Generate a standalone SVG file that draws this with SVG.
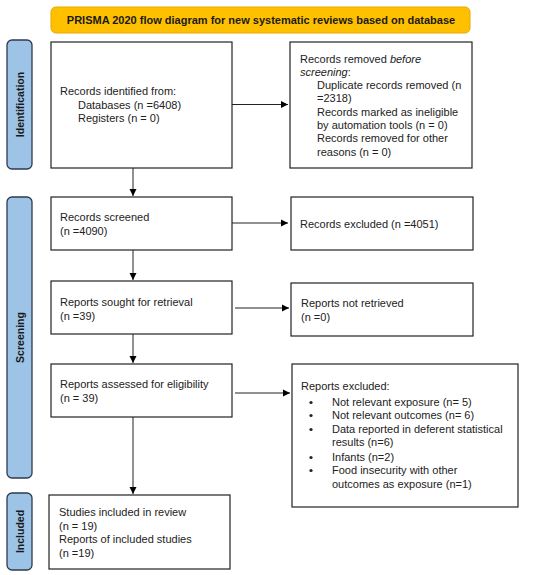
<svg xmlns="http://www.w3.org/2000/svg" width="550" height="575" viewBox="0 0 550 575">
<defs>
<marker id="ah" markerWidth="8" markerHeight="8" refX="7" refY="4" orient="auto" markerUnits="userSpaceOnUse">
<path d="M0,0.5 L7,4 L0,7.5 Z" fill="#000"/>
</marker>
<style>
.box{fill:#fff;stroke:#222;stroke-width:1.2}
.side{fill:#9DC3E6;stroke:#2E3B4E;stroke-width:1.3}
.t{font-family:"Liberation Sans",Arial,sans-serif;font-size:11px;fill:#222}
.sl{font-family:"Liberation Sans",Arial,sans-serif;font-size:10.5px;font-weight:bold;fill:#1a1a1a}
.ln{stroke:#222;stroke-width:1;fill:none;marker-end:url(#ah)}
</style>
</defs>
<rect width="550" height="575" fill="#fff"/>
<g id="title">
<rect x="51" y="7" width="419" height="26" rx="5" fill="#FFC000" stroke="#E8A800" stroke-width="1"/>
<text x="261" y="24" text-anchor="middle" font-family="Liberation Sans,Arial,sans-serif" font-size="11" font-weight="bold" fill="#1a1a1a">PRISMA 2020 flow diagram for new systematic reviews based on database</text>
</g>
<g id="side-identification">
<rect class="side" x="7" y="40" width="25" height="129" rx="5"/>
<text class="sl" transform="translate(23.5,104.5) rotate(-90)" text-anchor="middle">Identification</text>
</g>
<g id="side-screening">
<rect class="side" x="7" y="197" width="25" height="281" rx="5"/>
<text class="sl" transform="translate(23.5,337.5) rotate(-90)" text-anchor="middle">Screening</text>
</g>
<g id="side-included">
<rect class="side" x="7" y="493" width="25" height="77" rx="5"/>
<text class="sl" transform="translate(23.5,531.5) rotate(-90)" text-anchor="middle">Included</text>
</g>
<g id="identified">
<rect class="box" x="51" y="42" width="181" height="126"/>
<text class="t" x="60" y="95">Records identified from:</text>
<text class="t" x="78" y="109">Databases (n =6408)</text>
<text class="t" x="78" y="122">Registers (n = 0)</text>
</g>
<g id="removed">
<rect class="box" x="290" y="42" width="182" height="126"/>
<text class="t" x="300" y="63">Records removed <tspan font-style="italic">before</tspan></text>
<text class="t" x="300" y="76"><tspan font-style="italic">screening</tspan>:</text>
<text class="t" x="317" y="89">Duplicate records removed (n</text>
<text class="t" x="317" y="102">=2318)</text>
<text class="t" x="317" y="116">Records marked as ineligible</text>
<text class="t" x="317" y="129">by automation tools (n = 0)</text>
<text class="t" x="317" y="142">Records removed for other</text>
<text class="t" x="317" y="156">reasons (n = 0)</text>
</g>
<g id="screened">
<rect class="box" x="51" y="197" width="181" height="53"/>
<text class="t" x="60" y="221">Records screened</text>
<text class="t" x="60" y="235">(n =4090)</text>
</g>
<g id="excluded">
<rect class="box" x="291" y="197" width="182" height="53"/>
<text class="t" x="300" y="228">Records excluded (n =4051)</text>
</g>
<g id="sought">
<rect class="box" x="51" y="281" width="181" height="53"/>
<text class="t" x="60" y="306">Reports sought for retrieval</text>
<text class="t" x="60" y="320">(n =39)</text>
</g>
<g id="notretrieved">
<rect class="box" x="291" y="283" width="182" height="53"/>
<text class="t" x="301" y="307">Reports not retrieved</text>
<text class="t" x="301" y="321">(n =0)</text>
</g>
<g id="assessed">
<rect class="box" x="51" y="364" width="181" height="53"/>
<text class="t" x="60" y="388">Reports assessed for eligibility</text>
<text class="t" x="60" y="402">(n = 39)</text>
</g>
<g id="reportsexcluded">
<rect class="box" x="292" y="364" width="226" height="143"/>
<text class="t" x="301" y="390">Reports excluded:</text>
<g fill="#222">
<circle cx="311" cy="402.5" r="1.6"/>
<circle cx="311" cy="415.5" r="1.6"/>
<circle cx="311" cy="429.5" r="1.6"/>
<circle cx="311" cy="457.5" r="1.6"/>
<circle cx="311" cy="470.5" r="1.6"/>
</g>
<text class="t" x="332" y="406">Not relevant exposure (n= 5)</text>
<text class="t" x="332" y="419">Not relevant outcomes (n= 6)</text>
<text class="t" x="332" y="433">Data reported in deferent statistical</text>
<text class="t" x="332" y="446">results (n=6)</text>
<text class="t" x="332" y="461">Infants (n=2)</text>
<text class="t" x="332" y="474">Food insecurity with other</text>
<text class="t" x="332" y="488">outcomes as exposure (n=1)</text>
</g>
<g id="included">
<rect class="box" x="49" y="495" width="181" height="74"/>
<text class="t" x="59" y="516">Studies included in review</text>
<text class="t" x="59" y="530">(n = 19)</text>
<text class="t" x="59" y="543">Reports of included studies</text>
<text class="t" x="59" y="557">(n =19)</text>
</g>
<g id="connectors">
<line class="ln" x1="232" y1="104.5" x2="288" y2="104.5"/>
<line class="ln" x1="232" y1="223" x2="288" y2="223"/>
<line class="ln" x1="235" y1="308" x2="289" y2="308"/>
<line class="ln" x1="235" y1="393" x2="290" y2="393"/>
<line class="ln" x1="133" y1="168" x2="133" y2="196"/>
<line class="ln" x1="133" y1="250" x2="133" y2="280"/>
<line class="ln" x1="133" y1="334" x2="133" y2="363"/>
<line class="ln" x1="133" y1="417" x2="133" y2="494"/>
</g>
</svg>
